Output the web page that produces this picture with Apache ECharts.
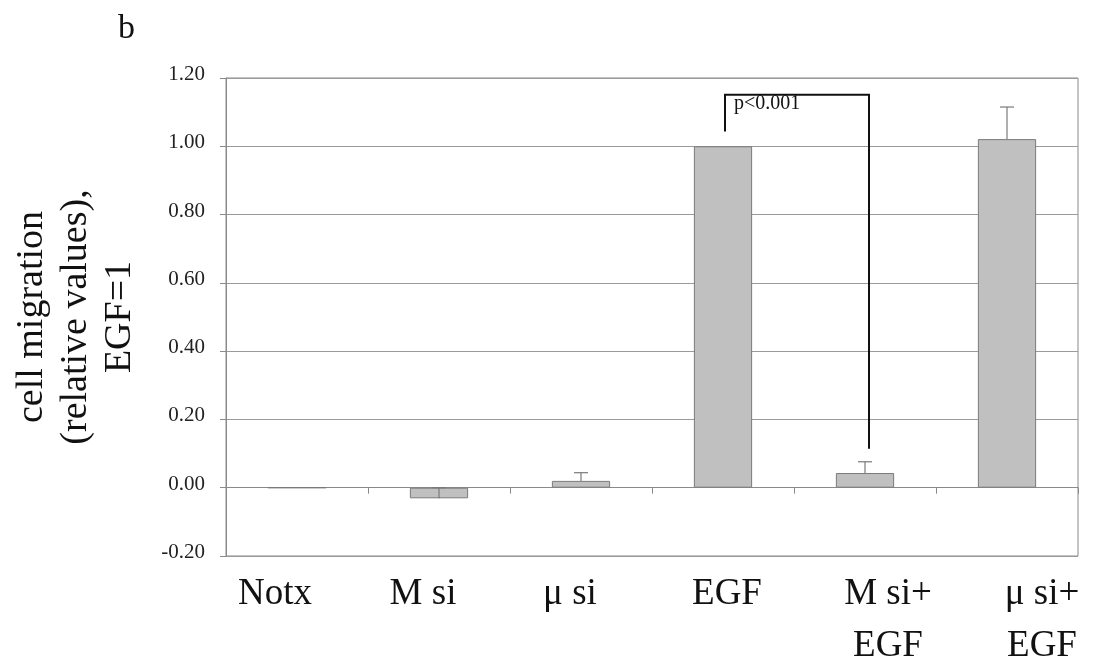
<!DOCTYPE html>
<html>
<head>
<meta charset="utf-8">
<script src="https://cdn.jsdelivr.net/npm/echarts@6/dist/echarts.min.js"></script>
<style>
  html, body { margin: 0; padding: 0; background: #fff; }
  #chart { width: 1093px; height: 669px; }
</style>
</head>
<body>
<div id="chart"></div>
<script>
// Treatment groups and measured migration (relative to EGF = 1)
const categories = ['Notx', 'M si', 'μ si', 'EGF', 'M si+\nEGF', 'μ si+\nEGF'];
const values = [0, -0.031, 0.020, 1.00, 0.043, 1.021];
// Upper error bar lengths
const errors = [0, 0.031, 0.024, 0, 0.033, 0.094];
// Significance bracket between EGF and M si+EGF
const bracketFrom = 3;
const bracketTo = 4;
const bracketLeftEnd = 1.043;
const bracketTop = 1.151;
const bracketRightEnd = 0.114;
const bracketText = 'p<0.001';

const yMin = -0.2, yMax = 1.2, yStep = 0.2;

// horizontal nudges for the category labels (px)
const labelShift = [-22, -16, -11, 4, 23, 35];

const serif = '"Liberation Serif", "Times New Roman", serif';

const rich = {};
labelShift.forEach((d, i) => {
  rich['c' + i] = {
    fontFamily: serif, fontSize: 37, color: '#111', lineHeight: 52,
    padding: d < 0 ? [0, -2 * d, 0, 0] : [0, 0, 0, 2 * d]
  };
});

const chart = echarts.init(document.getElementById('chart'));

chart.setOption({
  animation: false,
  backgroundColor: '#fff',
  grid: {
    left: 226, right: 15, top: 78, bottom: 113,
    containLabel: false, outerBoundsMode: 'none',
    show: true, borderColor: '#8a8a8a', borderWidth: 1, backgroundColor: 'transparent'
  },
  graphic: [
    {
      type: 'text', left: 118, top: 12,
      style: { text: 'b', font: '34px ' + serif, fill: '#111' }
    },
    {
      type: 'text', x: 76, y: 317, rotation: Math.PI / 2,
      style: {
        text: 'cell migration\n(relative values),\nEGF=1',
        font: '38px ' + serif, fill: '#111',
        textAlign: 'center', textVerticalAlign: 'middle', lineHeight: 44
      }
    }
  ],
  xAxis: {
    type: 'category',
    data: categories,
    boundaryGap: true,
    axisLine: { onZero: true, lineStyle: { color: '#8a8a8a', width: 1 } },
    axisTick: { show: true, inside: false, length: 6, interval: 0, lineStyle: { color: '#8a8a8a' } },
    axisLabel: {
      interval: 0, margin: 12,
      formatter: (v, i) => v.split('\n').map(s => '{c' + i + '|' + s + '}').join('\n'),
      rich: rich
    },
    splitLine: { show: false }
  },
  yAxis: {
    type: 'value',
    min: yMin, max: yMax, interval: yStep,
    axisLine: { show: true, lineStyle: { color: '#8a8a8a', width: 1 } },
    axisTick: { show: true, length: 6, lineStyle: { color: '#8a8a8a' } },
    axisLabel: {
      formatter: v => v.toFixed(2),
      fontFamily: serif, fontSize: 21, color: '#222', margin: 21,
      verticalAlign: 'bottom', lineHeight: 21, padding: [0, 0, -7, 0]
    },
    splitLine: { show: true, lineStyle: { color: '#9a9a9a', width: 1 } }
  },
  series: [
    {
      type: 'bar',
      data: values,
      barWidth: '41%',
      itemStyle: { color: '#c0c0c0', borderColor: '#7a7a7a', borderWidth: 1 },
      z: 2
    },
    {
      // upper error bars
      type: 'custom',
      data: categories.map((c, i) => [i, values[i], errors[i]]),
      encode: { x: 0, y: 1 },
      z: 3,
      renderItem: (params, api) => {
        const e = api.value(2);
        if (!e) return null;
        const i = api.value(0), v = api.value(1);
        const p1 = api.coord([i, v]);
        const p2 = api.coord([i, v + e]);
        const half = 7;
        const st = { stroke: '#7a7a7a', lineWidth: 1.2 };
        return {
          type: 'group',
          children: [
            { type: 'line', shape: { x1: p1[0], y1: p1[1], x2: p2[0], y2: p2[1] }, style: st },
            { type: 'line', shape: { x1: p2[0] - half, y1: p2[1], x2: p2[0] + half, y2: p2[1] }, style: st }
          ]
        };
      }
    },
    {
      // significance bracket
      type: 'custom',
      data: [[bracketFrom, bracketTo, bracketLeftEnd, bracketTop, bracketRightEnd]],
      encode: { x: [0, 1], y: [2, 3, 4] },
      z: 4,
      renderItem: (params, api) => {
        const a = api.coord([api.value(0), api.value(2)]);
        const t = api.coord([api.value(0), api.value(3)]);
        const b = api.coord([api.value(1), api.value(4)]);
        const xl = a[0] + 2, xr = b[0] + 4;
        return {
          type: 'group',
          children: [
            {
              type: 'polyline',
              shape: { points: [[xl, a[1]], [xl, t[1]], [xr, t[1]], [xr, b[1]]] },
              style: { stroke: '#111', lineWidth: 2, fill: null }
            },
            {
              type: 'text',
              x: xl + 9, y: t[1] + 9,
              style: {
                text: bracketText, font: '20px ' + serif, fill: '#111',
                textAlign: 'left', textVerticalAlign: 'middle'
              }
            }
          ]
        };
      }
    }
  ]
});
</script>
</body>
</html>
